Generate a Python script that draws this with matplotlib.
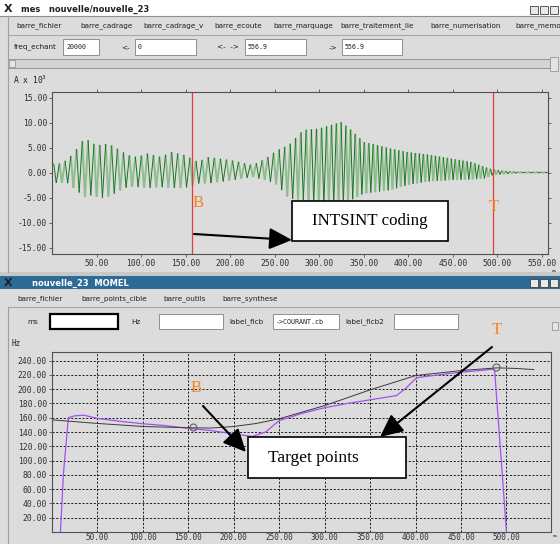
import matplotlib

matplotlib.use("Agg")
import matplotlib.pyplot as plt
import numpy as np
from matplotlib.collections import LineCollection
from matplotlib.patches import FancyArrowPatch, Rectangle
from matplotlib.ticker import FormatStrFormatter

W, H = 560, 544
GRAY = "#dcdcdc"
ORANGE = "#f7831f"
MONO = "DejaVu Sans Mono"
SERIF = "Liberation Serif"

# --- signal window (amplitude envelope, A x 10^3) ---
env_t = [0, 10, 16, 24, 37, 45, 54, 63, 73, 85, 96, 107, 122, 134, 149, 164, 175, 200, 225, 240,
         253, 266, 282, 300, 325, 336, 350, 365, 380, 399, 422, 448, 471, 486, 495, 509, 525, 557]
env_hi = [1.8, 1.8, 2.5, 3.8, 7.0, 5.8, 5.5, 5.8, 4.8, 3.5, 3.1, 3.8, 3.1, 4.1, 3.5, 2.1, 3.1, 2.5, 1.5, 2.8,
          4.5, 5.5, 8.5, 8.8, 10.1, 8.5, 6.1, 5.5, 4.8, 4.1, 3.6, 2.8, 2.1, 1.1, 0.6, 0.3, 0.1, 0.1]
env_lo = [-2.1, -2.1, -1.9, -3.1, -4.9, -4.5, -5.2, -4.9, -3.9, -2.9, -2.9, -3.1, -2.9, -3.1, -3.1, -2.2, -2.2, -1.6, -0.9, -1.5,
          -2.5, -5.2, -5.5, -6.5, -6.5, -5.5, -4.2, -3.9, -3.5, -2.5, -1.8, -1.5, -1.4, -1.2, -0.5, -0.3, -0.1, -0.1]
marks_ms = [157.6, 495.5]
top_xticks = [50, 100, 150, 200, 250, 300, 350, 400, 450, 500, 550]
top_yticks = [-15, -10, -5, 0, 5, 10, 15]

# --- MOMEL window ---
f0_t = [9.3, 12.6, 18, 25, 35, 50, 75, 100, 125, 150, 175, 200, 220, 235, 250, 275, 300, 325, 350,
        379, 390, 401, 425, 449, 470, 485, 487, 500]
f0_hz = [0, 82, 160, 162.7, 163.5, 159, 155, 151.5, 149, 145, 142, 137.5, 133.7, 140, 156, 166, 174, 180, 185,
         191, 202, 216, 220, 223.6, 226, 228, 226, 0]
momel_t = [0, 50, 100, 150, 175, 200, 225, 250, 300, 350, 400, 450, 490, 510, 530]
momel_hz = [157, 152, 147.7, 146, 145.5, 147.7, 152, 158.5, 177, 199, 219, 226, 229.8, 229, 227.4]
target_t = [155.5, 489]
target_hz = [147.7, 231.6]
low_xticks = [50, 100, 150, 200, 250, 300, 350, 400, 450, 500]
low_yticks = [20, 40, 60, 80, 100, 120, 140, 160, 180, 200, 220, 240]

top_menu = ["barre_fichier", "barre_cadrage", "barre_cadrage_v", "barre_ecoute", "barre_marquage",
            "barre_traitement_lie", "barre_numerisation", "barre_memo"]
top_menu_x = [16, 80, 143, 214, 273, 340, 430, 515]
low_menu = ["barre_fichier", "barre_points_cible", "barre_outils", "barre_synthese"]
low_menu_x = [17, 81, 163, 222]

fig = plt.figure(figsize=(W / 100, H / 100), dpi=100)
fig.patch.set_facecolor(GRAY)


def px_axes(left, top, right, bottom):
    return fig.add_axes([left / W, 1 - bottom / H, (right - left) / W, (bottom - top) / H])


bg = px_axes(0, 0, W, H)
bg.set_xlim(0, W)
bg.set_ylim(H, 0)
bg.axis("off")


def rect(ax, x0, y0, x1, y1, fc, ec="none", lw=0.7, z=1):
    ax.add_patch(Rectangle((x0, y0), x1 - x0, y1 - y0, facecolor=fc, edgecolor=ec, linewidth=lw, zorder=z))


def label(x, y, s, size=5.2, color="#202020", **kw):
    bg.text(x, y, s, fontsize=size, va="center", ha="left", color=color, **kw)


def entry(x0, x1, y0, y1, text="", heavy=False):
    rect(bg, x0, y0, x1, y1, "white", "black" if heavy else "#808080", 1.6 if heavy else 0.6)
    if text:
        label(x0 + 3, (y0 + y1) / 2, text, size=4.8, family=MONO)


# top window chrome
rect(bg, 0, 0, W, 16, "white")
label(4, 9, "X", size=8, fontweight="bold")
label(21, 9, "mes   nouvelle/nouvelle_23", size=6, fontweight="bold")
for bx in (530, 540, 550):
    rect(bg, bx, 6, bx + 8, 14, "#e8e8e8", "#404040", 0.6)
bg.plot([0, W], [16, 16], color="#909090", lw=0.8)
bg.plot([8, 8], [16, 272], color="#a0a0a0", lw=0.8)
for name, x in zip(top_menu, top_menu_x):
    label(x, 26, name)
bg.plot([8, W], [35, 35], color="#a8a8a8", lw=0.8)
label(14, 47, "freq_echant")
entry(63, 99, 39, 55, "20000")
label(121, 47, "<-")
entry(135, 196, 39, 55, "0")
label(217, 47, "<-  ->")
entry(245, 306, 39, 55, "556.9")
label(329, 47, "->")
entry(342, 402, 39, 55, "556.9")
rect(bg, 8, 59, 550, 68, "#d4d4d4", "#8a8a8a", 0.6)
rect(bg, 9, 60, 15, 67, "#e4e4e4", "#8a8a8a", 0.5)
rect(bg, 550, 57, 558, 71, "#e4e4e4", "#8a8a8a", 0.5)
label(13, 80, "A x 10$^3$", size=5.8, family=MONO)
label(552, 271, "ms", size=3.2, family=MONO)

# lower window chrome
rect(bg, 0, 272, W, 276, "#c8c8c8")
rect(bg, 0, 276, W, 289, "#2d6a96")
label(4, 283, "X", size=8, fontweight="bold")
label(32, 283, "nouvelle_23  MOMEL", size=6, fontweight="bold", color="white")
for bx in (530, 540, 550):
    rect(bg, bx, 279, bx + 8, 287, "#e8e8e8", "#404040", 0.6)
for name, x in zip(low_menu, low_menu_x):
    label(x, 299, name)
bg.plot([8, W], [307, 307], color="#a8a8a8", lw=0.8)
bg.plot([8, 8], [307, H], color="#a0a0a0", lw=0.8)
label(27, 322, "ms")
entry(50, 118, 314, 329, heavy=True)
label(131, 322, "Hz")
entry(159, 223, 314, 329)
label(229, 322, "label_ficb")
entry(273, 339, 314, 329, "->COURANT.cb")
label(345, 322, "label_ficb2")
entry(394, 458, 314, 329)
rect(bg, 552, 322, 558, 330, "#e4e4e4", "#8a8a8a", 0.5)
label(12, 343, "Hz", size=5.5, family=MONO)
label(553, 536, "ms", size=3.2, family=MONO)


def style_axes(ax):
    ax.set_facecolor(GRAY)
    for sp in ax.spines.values():
        sp.set_color("#505050")
        sp.set_linewidth(0.8)
    ax.tick_params(labelsize=5.8, colors="#505050", labelcolor="#303030", length=2, width=0.6, pad=1.5)
    for lab in ax.get_xticklabels() + ax.get_yticklabels():
        lab.set_family(MONO)
    ax.xaxis.set_major_formatter(FormatStrFormatter("%.2f"))
    ax.yaxis.set_major_formatter(FormatStrFormatter("%.2f"))


# top plot: speech waveform drawn as one peak/trough per glottal cycle
ax1 = px_axes(52, 92, 548, 254)
cycles = [0.0]
while cycles[-1] < 557:
    cycles.append(cycles[-1] + 1000.0 / np.interp(cycles[-1], momel_t, momel_hz))
cycles = np.array(cycles)
period = np.diff(cycles)
peak_t = cycles[:-1] + 0.3 * period
trough_t = cycles[:-1] + 0.75 * period
vx = np.ravel(np.column_stack([peak_t, trough_t]))
vy = np.ravel(np.column_stack([np.interp(peak_t, env_t, env_hi), np.interp(trough_t, env_t, env_lo)]))
segs = np.stack([np.column_stack([vx[:-1], vy[:-1]]), np.column_stack([vx[1:], vy[1:]])], axis=1)
alt = (np.arange(len(segs)) // 2) % 2
ax1.add_collection(LineCollection(segs[alt == 1], colors="#8dbd8d", linewidths=1.4))
ax1.add_collection(LineCollection(segs[alt == 0], colors="#16761a", linewidths=0.7))
for m in marks_ms:
    ax1.axvline(m, color="#e83a3a", lw=0.9)
ax1.set_xlim(0, 556.9)
ax1.set_ylim(-16.3, 16.1)
ax1.set_xticks(top_xticks)
ax1.set_yticks(top_yticks)
ax1.tick_params(top=True, right=True)
style_axes(ax1)

# lower plot: F0 and MOMEL target curve
ax2 = px_axes(52, 352, 551, 532)
ax2.plot(f0_t, f0_hz, color="#a64ef0", lw=0.9)
ax2.plot(momel_t, momel_hz, color="#3a3a3a", lw=0.7)
ax2.plot(target_t, target_hz, "o", mfc="none", mec="#606060", ms=5, mew=0.8)
ax2.set_xlim(0, 549)
ax2.set_ylim(0, 252)
ax2.set_xticks(low_xticks)
ax2.set_yticks(low_yticks)
ax2.grid(True, color="black", linestyle=(0, (2.5, 2)), linewidth=0.6)
style_axes(ax2)
ax2.tick_params(axis="x", length=0.5, pad=0.5, labelsize=5.5)

# overlay: annotation boxes, arrows and B / T markers
ov = px_axes(0, 0, W, H)
ov.set_zorder(10)
ov.set_xlim(0, W)
ov.set_ylim(H, 0)
ov.axis("off")
rect(ov, 292, 201, 448, 241, "white", "black", 1.2)
ov.text(370, 221, "INTSINT coding", family=SERIF, fontsize=12.2, ha="center", va="center")
rect(ov, 248, 437, 406, 478, "white", "black", 1.2)
ov.text(268, 458, "Target points", family=SERIF, fontsize=12.5, ha="left", va="center")
arrow_style = "-|>,head_length=0.7,head_width=0.33"
for start, end in [((194, 234), (292, 240)), ((203, 406), (246, 452)), ((492, 347), (380, 437))]:
    ov.add_patch(FancyArrowPatch(start, end, arrowstyle=arrow_style, mutation_scale=20,
                                 color="black", lw=1.5, shrinkA=0, shrinkB=0))
for x, y, s in [(198, 203, "B"), (494, 207, "T"), (196, 388, "B"), (497, 330, "T")]:
    ov.text(x, y, s, family=SERIF, fontsize=12, color=ORANGE, ha="center", va="center")

fig.savefig("out.png", dpi=100, facecolor=fig.get_facecolor())
